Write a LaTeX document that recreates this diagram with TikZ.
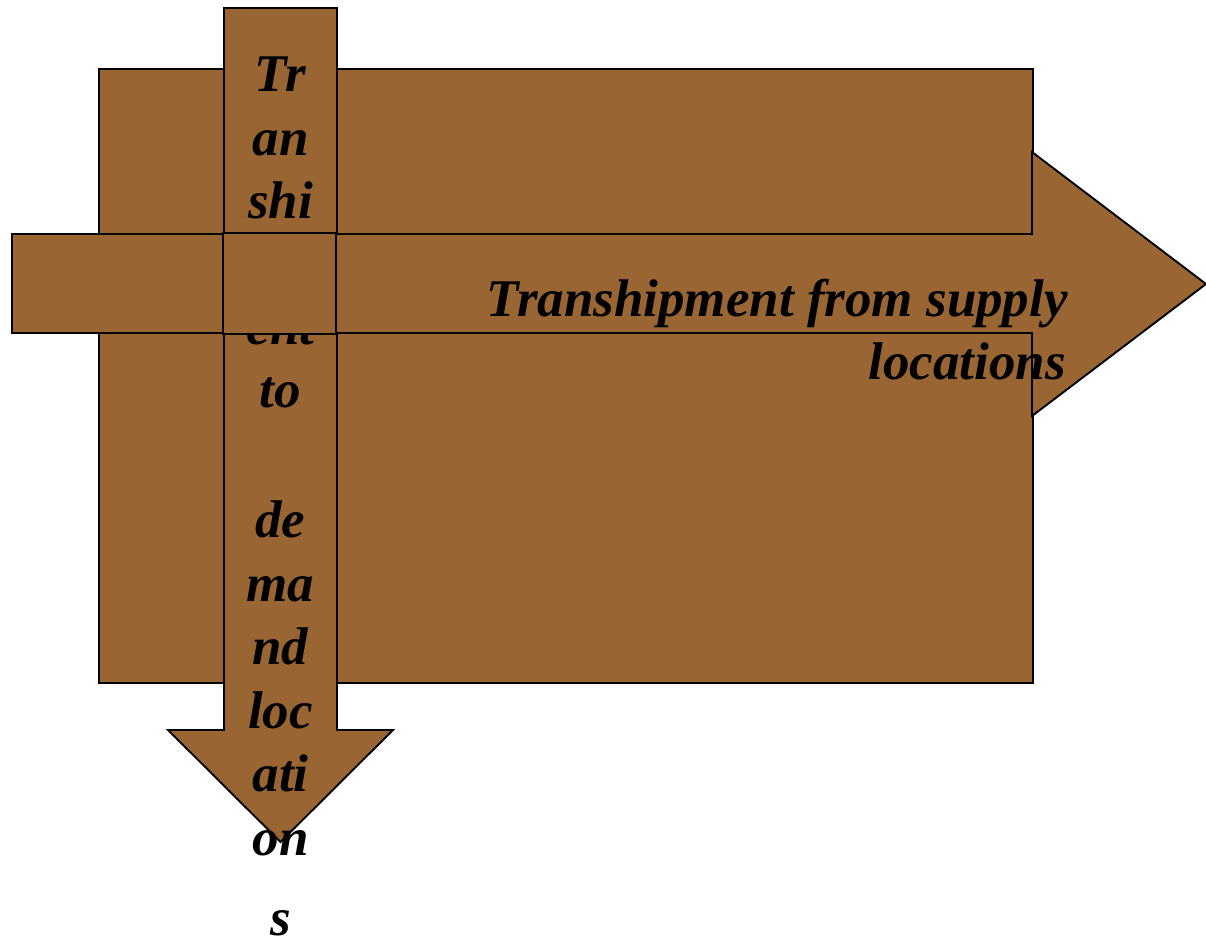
\documentclass[tikz,border=0pt]{standalone}
\usepackage{fontspec}
\setmainfont{Liberation Serif}
\definecolor{brownfill}{HTML}{996633}
\begin{document}
\begin{tikzpicture}[x=1pt,y=-1pt,
  shapebox/.style={fill=brownfill,draw=black,line width=1.9pt,line join=miter},
  lbl/.style={inner sep=0pt,font=\fontsize{53}{63.5}\selectfont\bfseries\itshape}]
\useasboundingbox (0,0) rectangle (1206,947);
% big rectangle
\node (board) [shapebox,rectangle,minimum width=934pt,minimum height=614pt,inner sep=0pt] at (566,376) {};
% vertical arrow
\coordinate (vtop) at (280.5,8);
\coordinate (vtip) at (280.5,842);
\draw[shapebox] (224,8) -- (337,8) -- (337,730) -- (393,730) -- (vtip) -- (168,730) -- (224,730) -- cycle;
\foreach \t/\y [count=\i] in {Tr/92,an/155,shi/218,pm/281,ent/344,to/407,de/537,ma/601,nd/664,loc/728,ati/791,on/855}
  \node (v\i) [lbl,anchor=base] at (280.5,\y) {\t};
\node (v13) [lbl,anchor=base,text depth=0pt] at (280.5,935) {s};
% horizontal arrow
\coordinate (htip) at (1206,284);
\draw[shapebox] (12,234) -- (1032,234) -- (1032,152) -- (htip) -- (1032,416) -- (1032,333) -- (12,333) -- cycle;
% crossing square
\node (cross) [shapebox,rectangle,minimum width=113pt,minimum height=101pt,inner sep=0pt] at (279.5,283.5) {};
% horizontal text
\node (h1) [lbl,anchor=base east] at (1068,316) {Transhipment from supply};
\node (h2) [lbl,anchor=base east] at (1066,379) {locations};
\end{tikzpicture}
\end{document}
